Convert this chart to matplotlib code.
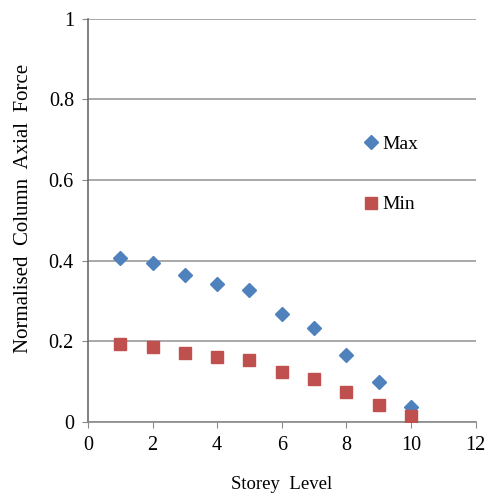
import matplotlib.pyplot as plt

storey = [1, 2, 3, 4, 5, 6, 7, 8, 9, 10]
force_max = [0.408, 0.394, 0.365, 0.343, 0.328, 0.268, 0.232, 0.167, 0.099, 0.036]
force_min = [0.193, 0.185, 0.171, 0.160, 0.153, 0.125, 0.107, 0.074, 0.043, 0.014]

plt.rcParams["font.family"] = ["Liberation Serif", "DejaVu Serif"]

fig = plt.figure(figsize=(4.88, 4.97), dpi=100)
ax = fig.add_axes([0.180, 0.151, 0.795, 0.811])

ax.plot(storey, force_max, "D", color="#4F81BD", markersize=7.5, label="Max", zorder=3)
ax.plot(storey, force_min, "s", color="#C0504D", markersize=9, label="Min", zorder=3)

ax.set_xlim(0, 12)
ax.set_ylim(0, 1)
ax.set_xticks(range(0, 13, 2))
ax.set_yticks([0, 0.2, 0.4, 0.6, 0.8, 1])
ax.set_yticklabels(["0", "0.2", "0.4", "0.6", "0.8", "1"])
ax.yaxis.grid(True, color="#9a9a9a", linewidth=1.2)
ax.set_axisbelow(True)

for side in ["top", "right"]:
    ax.spines[side].set_visible(False)
ax.spines["left"].set_color("#6b6b6b")
ax.spines["bottom"].set_color("#8a8a8a")
ax.spines["left"].set_linewidth(1.2)
ax.spines["bottom"].set_linewidth(1.2)
ax.tick_params(axis="both", direction="out", length=4, color="#8a8a8a",
               labelsize=14.5, pad=6)

ax.set_xlabel("Storey  Level", fontsize=13.5)
ax.set_ylabel("Normalised  Column  Axial  Force", fontsize=15)
ax.xaxis.set_label_coords(0.5, -0.135)
ax.yaxis.set_label_coords(-0.142, 0.53)

ax.legend(loc="upper left", bbox_to_anchor=(0.69, 0.735), frameon=False,
          fontsize=14, handlelength=0.6, handletextpad=0.3, labelspacing=2.2,
          borderpad=0)

fig.savefig("out.png", dpi=100)
